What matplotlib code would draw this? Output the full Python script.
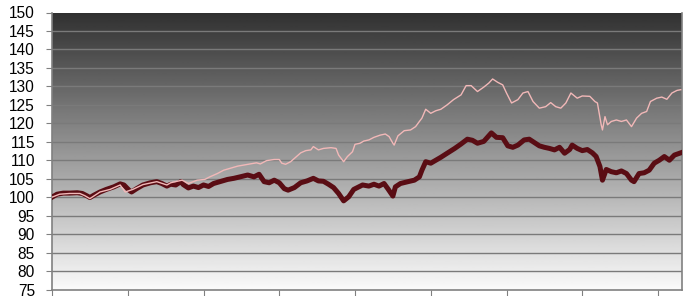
import numpy as np
import matplotlib
matplotlib.use('Agg')
import matplotlib.pyplot as plt

# trading-day index and index level (start = 100)
dark_days = [0, 4, 9, 14, 20, 24, 28, 30, 33, 38, 43, 49, 54, 57, 61, 63, 67, 72, 78, 83,
             87, 91, 94, 98, 102, 104, 108, 112, 116, 120, 124, 128, 133, 139, 144, 149,
             155, 160, 164, 168, 172, 176, 180, 184, 187, 192, 197, 202, 207, 211, 215,
             219, 223, 227, 231, 235, 239, 246, 251, 255, 259, 263, 266, 270, 272, 276,
             282, 287, 291, 293, 296, 300, 304, 308, 313, 319, 324, 329, 333, 337, 342,
             348, 352, 357, 361, 365, 369, 374, 378, 382, 386, 390, 394, 398, 402, 406,
             410, 412, 416, 420, 424, 428, 431, 434, 436, 439, 443, 447, 451, 455, 459,
             461, 465, 469, 473, 477, 481, 485, 489, 493, 498]
dark_vals = [100.0, 100.8, 101.1, 101.1, 101.2, 101.0, 100.3, 99.9, 100.5, 101.4, 102.1,
             102.8, 103.6, 103.3, 101.9, 101.4, 102.3, 103.3, 103.9, 104.2, 103.7, 103.0,
             103.5, 103.3, 104.2, 103.4, 102.5, 103.0, 102.6, 103.3, 102.9, 103.7, 104.2,
             104.8, 105.1, 105.5, 106.0, 105.5, 106.2, 104.2, 103.9, 104.6, 103.9, 102.3,
             101.9, 102.6, 103.9, 104.4, 105.1, 104.4, 104.3, 103.5, 102.6, 101.0, 99.0,
             100.1, 102.1, 103.3, 103.0, 103.5, 103.0, 103.7, 102.3, 100.3, 102.8, 103.7,
             104.2, 104.6, 105.5, 107.3, 109.6, 109.2, 110.0, 110.8, 111.9, 113.2, 114.4,
             115.7, 115.4, 114.6, 115.1, 117.4, 116.2, 116.1, 113.9, 113.5, 114.1, 115.5,
             115.7, 114.8, 113.9, 113.5, 113.2, 112.8, 113.5, 111.9, 112.9, 114.1, 113.2,
             112.6, 112.9, 112.0, 111.0, 108.3, 104.6, 107.5, 106.9, 106.6, 107.1, 106.4,
             104.6, 104.2, 106.4, 106.6, 107.3, 109.2, 110.0, 111.0, 110.0, 111.4, 112.0]

light_days = [0, 6, 14, 22, 26, 30, 38, 46, 54, 58, 64, 72, 83, 91, 94, 103, 108, 115,
              121, 125, 131, 136, 141, 147, 152, 157, 162, 165, 170, 176, 180, 182, 185,
              189, 193, 197, 201, 205, 207, 211, 215, 221, 225, 227, 231, 234, 238, 240,
              244, 247, 251, 255, 260, 264, 267, 270, 271, 274, 279, 284, 288, 291, 293,
              296, 300, 304, 308, 313, 318, 324, 328, 332, 337, 342, 346, 349, 353, 357,
              360, 364, 369, 373, 377, 381, 386, 391, 395, 399, 403, 407, 411, 416, 420,
              426, 430, 432, 435, 436, 438, 440, 443, 447, 451, 455, 459, 463, 467, 471,
              474, 479, 483, 487, 491, 495, 498]
light_vals = [100.0, 100.8, 101.0, 101.0, 100.4, 99.6, 101.4, 102.1, 103.3, 101.4, 102.1,
              103.4, 104.2, 103.3, 103.9, 104.6, 103.7, 104.6, 104.8, 105.5, 106.4, 107.3,
              107.8, 108.4, 108.7, 109.0, 109.3, 109.0, 109.9, 110.2, 110.2, 109.2, 108.9,
              109.6, 110.8, 112.0, 112.6, 112.8, 113.7, 112.8, 113.2, 113.4, 113.2, 111.4,
              109.6, 111.0, 112.3, 114.3, 114.6, 115.2, 115.5, 116.2, 116.8, 117.1, 116.4,
              114.6, 114.1, 116.6, 118.0, 118.2, 119.1, 120.5, 121.4, 123.8, 122.7, 123.4,
              123.8, 125.0, 126.4, 127.7, 130.2, 130.2, 128.6, 129.8, 130.9, 132.0, 131.1,
              130.4, 128.2, 125.5, 126.4, 128.2, 128.6, 125.9, 124.1, 124.5, 125.6, 124.5,
              124.1, 125.5, 128.2, 126.8, 127.4, 127.3, 125.9, 125.5, 119.6, 118.2, 121.8,
              119.6, 120.5, 120.9, 120.5, 120.9, 119.1, 121.4, 122.7, 123.2, 125.9, 126.8,
              127.1, 126.5, 128.2, 128.9, 129.1]

plt.rcParams['font.family'] = ['Liberation Sans', 'DejaVu Sans']

fig = plt.figure(figsize=(6.93, 2.96), dpi=100)
ax = fig.add_axes([52 / 693, 6.5 / 296, 630 / 693, 277 / 296])

ymin, ymax = 75, 150
xmax = 499

# grey gradient background, dark at top
grad = np.linspace(0.98, 0.19, 256).reshape(-1, 1)
ax.imshow(grad, cmap='gray', vmin=0, vmax=1, aspect='auto',
          extent=[0, xmax, ymin, ymax], origin='lower', zorder=0)

for v in range(80, 150, 5):
    ax.axhline(v, color='#7a7a7a', lw=1.0, zorder=1)

ax.plot(dark_days, dark_vals, color='#5a0d14', lw=3.6, solid_joinstyle='round', zorder=3)
ax.plot(light_days, light_vals, color='#f2b8b8', lw=1.0, zorder=4)

ax.set_xlim(0, xmax)
ax.set_ylim(ymin, ymax)
ax.set_yticks(range(75, 151, 5))
ax.set_xticks(range(0, xmax, 60))
ax.set_xticklabels([])
ax.tick_params(axis='y', length=4.3, color='#808080', labelsize=11.2, pad=8)
ax.tick_params(axis='x', length=5, color='#808080', direction='out')

for side in ['left', 'right', 'bottom']:
    ax.spines[side].set_color('#808080')
    ax.spines[side].set_linewidth(1.2)
ax.spines['top'].set_visible(False)

fig.savefig('out.png', dpi=100)
